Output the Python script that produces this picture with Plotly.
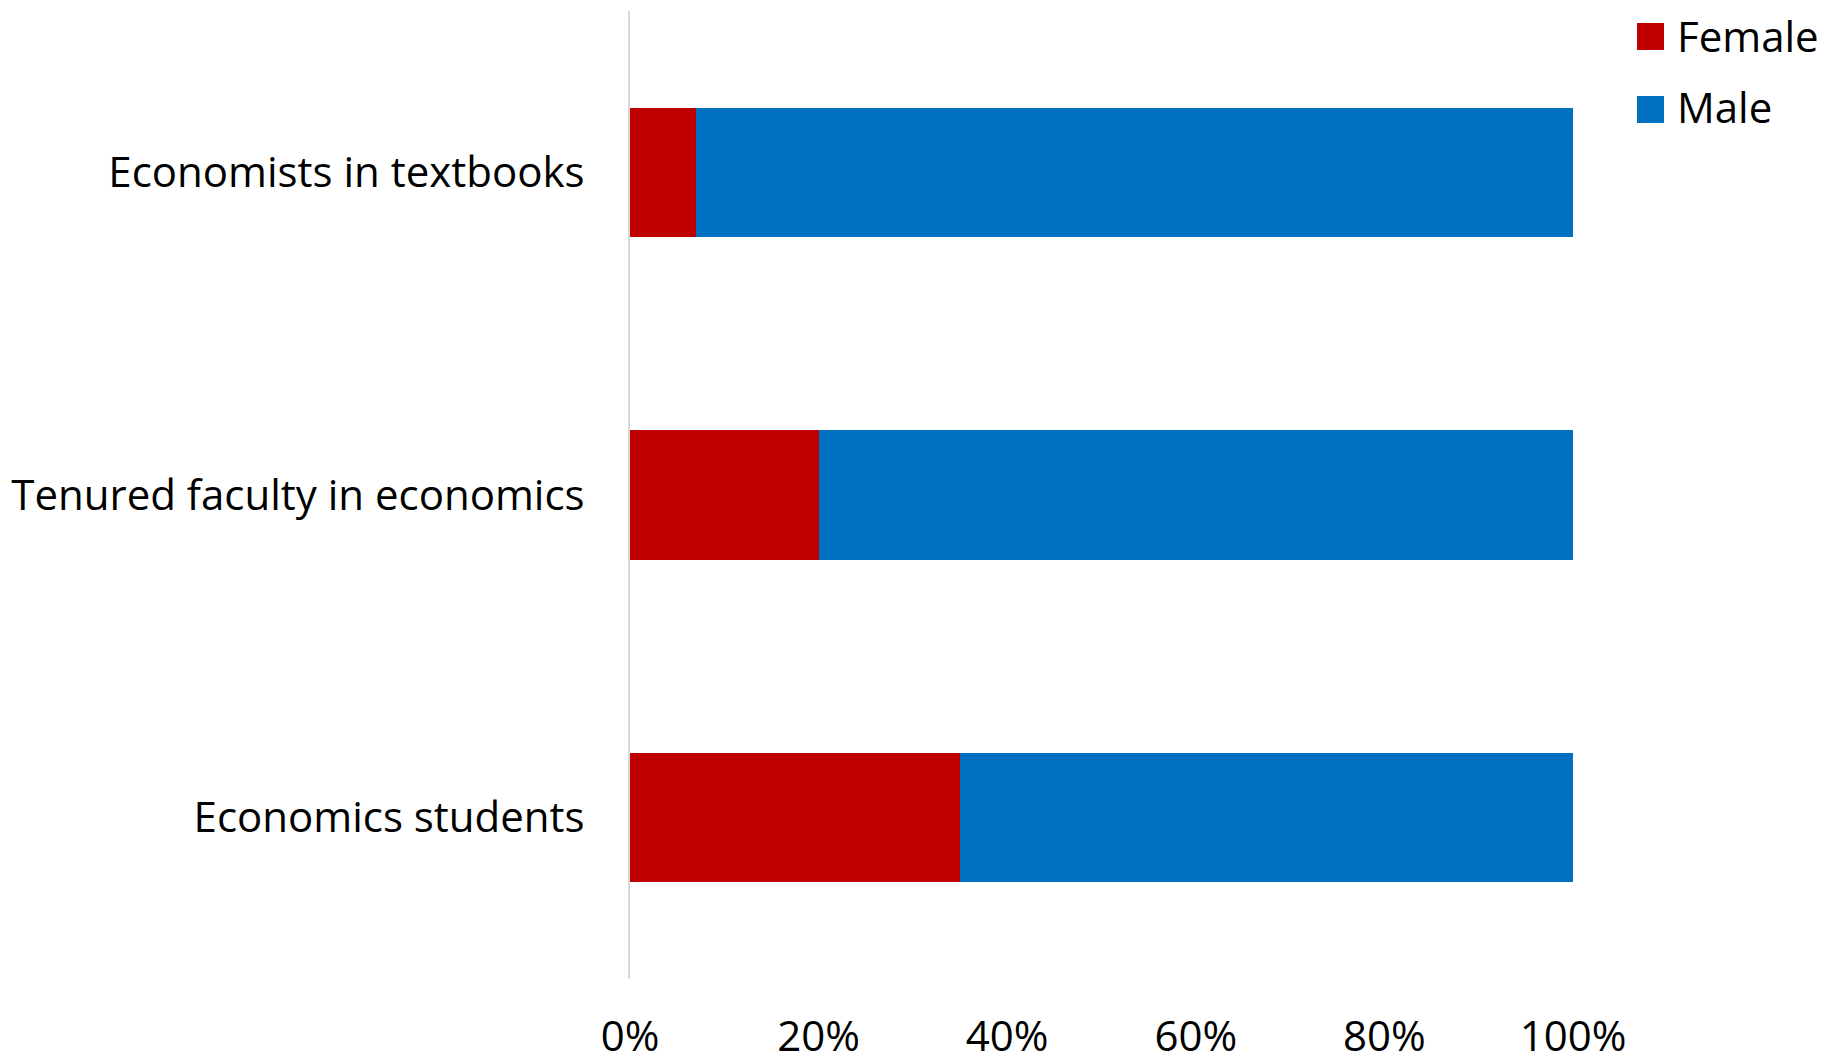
import plotly.graph_objects as go

# Share of women and men in each group (percent)
categories = ["Economics students", "Tenured faculty in economics", "Economists in textbooks"]
female = [35, 20, 7]
male = [65, 80, 93]
x_ticks = [0, 20, 40, 60, 80, 100]
x_tick_labels = ["0%", "20%", "40%", "60%", "80%", "100%"]

RED = "#C00000"
BLUE = "#0070C0"
FONT = "Open Sans"
SIZE = 42

W, H = 1835, 1061
M_L, M_R, M_T, M_B = 630, 262, 11, 82

fig = go.Figure()
fig.add_trace(go.Bar(y=categories, x=female, orientation="h", name="Female",
                     marker=dict(color=RED, line=dict(width=0)), showlegend=False))
fig.add_trace(go.Bar(y=categories, x=male, orientation="h", name="Male",
                     marker=dict(color=BLUE, line=dict(width=0)), showlegend=False))


def paper_x(px):
    return (px - M_L) / (W - M_L - M_R)


def paper_y(py):
    return (H - M_B - py) / (H - M_T - M_B)


# Legend drawn as swatches + labels at the top right
legend_items = [("Female", RED, 23, 12), ("Male", BLUE, 96, 10)]
for label, color, top, text_dy in legend_items:
    fig.add_shape(type="rect", xref="paper", yref="paper",
                  x0=paper_x(1637), x1=paper_x(1664),
                  y0=paper_y(top + 27), y1=paper_y(top),
                  fillcolor=color, line=dict(width=0))
    fig.add_annotation(text=label, xref="paper", yref="paper",
                       x=paper_x(1675), y=paper_y(top + text_dy),
                       xanchor="left", yanchor="middle", showarrow=False,
                       font=dict(family=FONT, size=SIZE, color="#000000"))

fig.update_layout(
    width=W, height=H,
    barmode="stack", bargap=0.6,
    margin=dict(l=M_L, r=M_R, t=M_T, b=M_B),
    paper_bgcolor="white", plot_bgcolor="white",
    font=dict(family=FONT, size=SIZE, color="#000000"),
    xaxis=dict(range=[0, 100], tickmode="array", tickvals=x_ticks,
               ticktext=x_tick_labels,
               showgrid=False, zeroline=False, showline=False, ticks="",
               ticklabelstandoff=29, automargin=False,
               tickfont=dict(family=FONT, size=SIZE, color="#000000")),
    yaxis=dict(showgrid=False, zeroline=False, showline=True,
               linecolor="#D9D9D9", linewidth=2, ticks="",
               ticklabelstandoff=35, automargin=False,
               tickfont=dict(family=FONT, size=SIZE, color="#000000")),
)

fig.write_html("out.html")
